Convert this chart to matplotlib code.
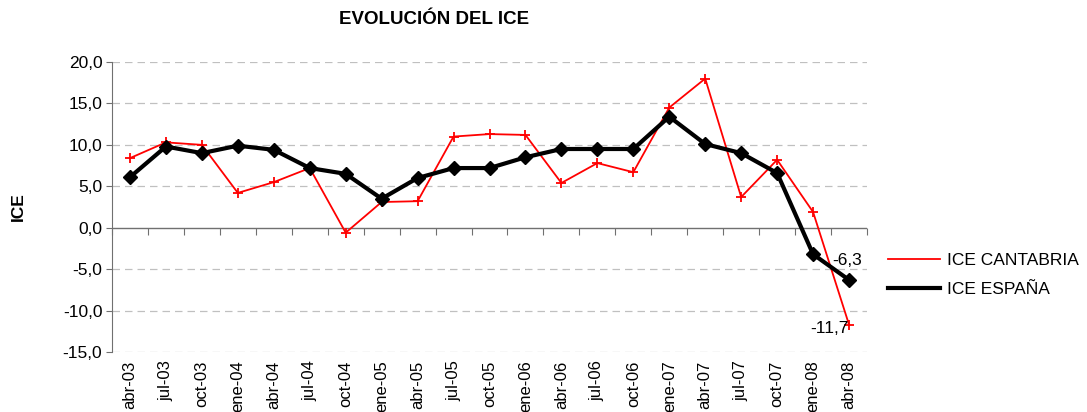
import matplotlib
matplotlib.use("Agg")
import matplotlib.pyplot as plt
import numpy as np

plt.rcParams['font.family'] = ['Liberation Sans', 'DejaVu Sans']

# ---Data---
periodos = ['abr-03', 'jul-03', 'oct-03', 'ene-04', 'abr-04', 'jul-04', 'oct-04',
            'ene-05', 'abr-05', 'jul-05', 'oct-05', 'ene-06', 'abr-06', 'jul-06',
            'oct-06', 'ene-07', 'abr-07', 'jul-07', 'oct-07', 'ene-08', 'abr-08']
ice_cantabria = [8.4, 10.3, 10.0, 4.2, 5.5, 7.2, -0.6, 3.1, 3.2, 11.0, 11.3, 11.2,
                 5.4, 7.8, 6.7, 14.5, 18.0, 3.7, 8.2, 1.9, -11.7]
ice_espana = [6.1, 9.8, 9.0, 9.9, 9.4, 7.2, 6.5, 3.5, 6.0, 7.2, 7.2, 8.5,
              9.5, 9.5, 9.5, 13.4, 10.1, 9.0, 6.6, -3.2, -6.3]
yticks = [-15, -10, -5, 0, 5, 10, 15, 20]

x = np.arange(len(periodos))

fig = plt.figure(figsize=(10.87, 4.12), dpi=100)
ax = fig.add_axes([112 / 1087, 1 - 352 / 412, 755 / 1087, 290 / 412])

ax.plot(x, ice_cantabria, color='red', linewidth=1.3, marker='+', markersize=7,
        markeredgewidth=1.3, label='ICE CANTABRIA', zorder=3)
ax.plot(x, ice_espana, color='black', linewidth=3, marker='D', markersize=7,
        label='ICE ESPAÑA', zorder=4)

ax.set_xlim(-0.5, len(periodos) - 0.5)
ax.set_ylim(-15, 20)

# gridlines
for v in yticks:
    if v != 0:
        ax.axhline(v, color='#c0c0c0', linewidth=0.9, linestyle=(0, (6, 4)), zorder=1)
ax.axhline(0, color='#707070', linewidth=1.0, zorder=2)

ax.set_yticks(yticks)
ax.set_yticklabels([f'{v:.1f}'.replace('.', ',') for v in yticks], fontsize=12.5)
ax.tick_params(axis='y', direction='out', length=4, color='#707070', pad=3)

ax.set_xticks(x)
ax.set_xticklabels(periodos, rotation=90, fontsize=12)
ax.tick_params(axis='x', length=0, pad=6)

# category boundary ticks on the zero line
sec = ax.secondary_xaxis(15 / 35)
sec.set_xticks(np.arange(len(periodos) + 1) - 0.5)
sec.set_xticklabels([])
sec.tick_params(direction='out', length=5, color='#707070')
sec.spines['bottom'].set_visible(False)

for s in ['top', 'right', 'bottom']:
    ax.spines[s].set_visible(False)
ax.spines['left'].set_color('#707070')

ax.annotate('-6,3', (x[-1], ice_espana[-1]), xytext=(-12, 14), textcoords='offset points',
            fontsize=12.5, ha='left', va='center')
ax.annotate('-11,7', (x[-1], ice_cantabria[-1]), xytext=(-28, -3), textcoords='offset points',
            fontsize=12.5, ha='left', va='center')

ax.set_ylabel('ICE', fontsize=12.5, fontweight='bold')
ax.yaxis.set_label_coords((26 - 112) / 755, 0.5)
fig.text(434 / 1087, 1 - 20 / 412, 'EVOLUCIÓN DEL ICE', fontsize=13.5, fontweight='bold',
         ha='center', va='center')

fig.legend(loc='center left', bbox_to_anchor=(872 / 1087, 1 - 275 / 412), frameon=False,
           fontsize=12.5, handlelength=3.0, handletextpad=0.4, labelspacing=0.84,
           markerscale=0)

fig.savefig('out.png', dpi=100)
